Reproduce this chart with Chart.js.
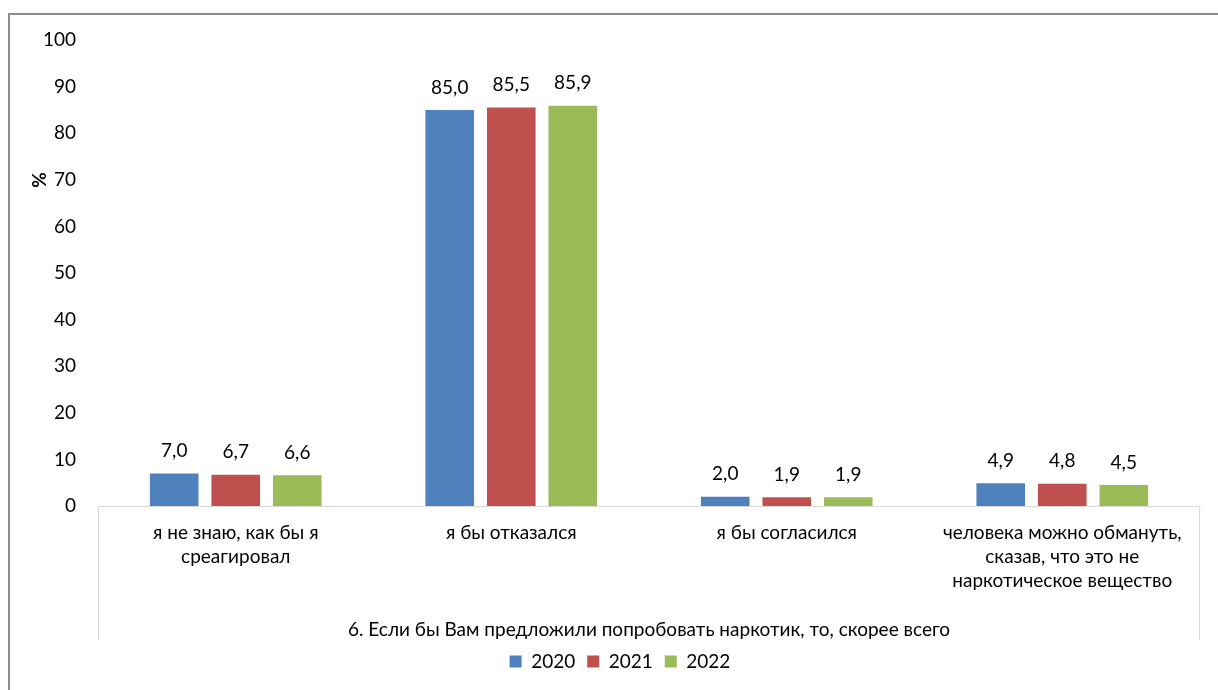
<!DOCTYPE html>
<html>
<head>
<meta charset="utf-8">
<script src="https://cdn.jsdelivr.net/npm/chart.js@4/dist/chart.umd.min.js"></script>
<style>
  body { margin: 0; background: #fff; }
  #wrap { position: absolute; left: 0; top: 0; width: 1218px; height: 690px; }
  #frame { position: absolute; left: 8px; top: 13px; width: 1230px; height: 700px; border: 2px solid #8c8c8c; box-sizing: border-box; }
</style>
</head>
<body>
<div id="frame"></div>
<div id="wrap"><canvas id="barChart"></canvas></div>
<script>
var categories = [
  ['я не знаю, как бы я', 'среагировал'],
  ['я бы отказался'],
  ['я бы согласился'],
  ['человека можно обмануть,', 'сказав, что это не', 'наркотическое вещество']
];
var years = ['2020', '2021', '2022'];
var values2020 = [7.0, 85.0, 2.0, 4.9];
var values2021 = [6.7, 85.5, 1.9, 4.8];
var values2022 = [6.6, 85.9, 1.9, 4.5];
var groupTitle = '6. Если бы Вам предложили попробовать наркотик, то, скорее всего';
var yTicks = [0, 10, 20, 30, 40, 50, 60, 70, 80, 90, 100];

var colors = ['#4F81BD', '#C0504D', '#9BBB59'];
var fontFamily = 'Lato, "Open Sans", sans-serif';
var fontSize = 19;

// value labels + group title + % axis title
var extras = {
  id: 'extras',
  afterDatasetsDraw: function (chart) {
    var ctx = chart.ctx;
    ctx.save();
    ctx.fillStyle = '#000';
    ctx.font = fontSize + 'px ' + fontFamily;
    ctx.textAlign = 'center';
    ctx.textBaseline = 'bottom';
    chart.data.datasets.forEach(function (ds, i) {
      var meta = chart.getDatasetMeta(i);
      meta.data.forEach(function (bar, j) {
        ctx.fillText(ds.data[j].toFixed(1).replace('.', ','), bar.x, bar.y - 13);
      });
    });
    ctx.restore();
  },
  afterDraw: function (chart) {
    var ctx = chart.ctx;
    var a = chart.chartArea;
    ctx.save();
    ctx.strokeStyle = '#d9d9d9';
    ctx.lineWidth = 1;
    ctx.beginPath();
    ctx.moveTo(a.left + 0.5, a.bottom);
    ctx.lineTo(a.left + 0.5, a.bottom + 134);
    ctx.moveTo(a.right - 0.5, a.bottom);
    ctx.lineTo(a.right - 0.5, a.bottom + 134);
    ctx.stroke();
    ctx.fillStyle = '#000';
    ctx.font = fontSize + 'px ' + fontFamily;
    ctx.textAlign = 'center';
    ctx.textBaseline = 'middle';
    ctx.fillText(groupTitle, (a.left + a.right) / 2, a.bottom + 124);
    ctx.translate(40, 180);
    ctx.rotate(-Math.PI / 2);
    ctx.font = 'bold ' + fontSize + 'px ' + fontFamily;
    ctx.fillText('%', 0, 0);
    ctx.restore();
  }
};

var ctx = document.getElementById('barChart').getContext('2d');
new Chart(ctx, {
  type: 'bar',
  data: {
    labels: categories,
    datasets: [
      { label: years[0], data: values2020, backgroundColor: colors[0] },
      { label: years[1], data: values2021, backgroundColor: colors[1] },
      { label: years[2], data: values2022, backgroundColor: colors[2] }
    ]
  },
  options: {
    responsive: true,
    maintainAspectRatio: false,
    animation: false,
    categoryPercentage: 0.67,
    barPercentage: 0.79,
    layout: { padding: { left: 40, right: 18, top: 40, bottom: 9 } },
    plugins: {
      legend: {
        position: 'bottom',
        labels: {
          color: '#000',
          font: { family: fontFamily, size: fontSize },
          boxWidth: 12,
          boxHeight: 12,
          padding: 12
        }
      },
      tooltip: { enabled: false }
    },
    scales: {
      x: {
        grid: { display: false },
        border: { display: true, color: '#d9d9d9', width: 1 },
        ticks: {
          color: '#000',
          font: { family: fontFamily, size: fontSize, lineHeight: 1.25 },
          padding: 7,
          maxRotation: 0,
          autoSkip: false
        },
        afterFit: function (scale) { scale.height = 134; }
      },
      y: {
        min: 0,
        max: 100,
        afterBuildTicks: function (scale) {
          scale.ticks = yTicks.map(function (v) { return { value: v }; });
        },
        grid: { display: false },
        border: { display: false },
        ticks: {
          color: '#000',
          font: { family: fontFamily, size: fontSize },
          padding: 14
        },
        afterFit: function (scale) { scale.width = 58; }
      }
    }
  },
  plugins: [extras]
});
</script>
</body>
</html>
